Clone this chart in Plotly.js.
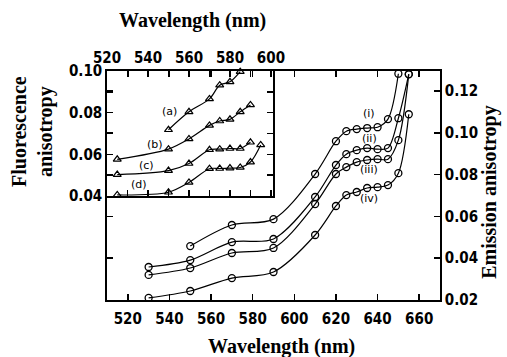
<!DOCTYPE html>
<html><head><meta charset="utf-8">
<script src="https://cdn.plot.ly/plotly-3.0.1.min.js"></script>
<style>html,body{margin:0;padding:0;background:#fff}#chart{width:507px;height:357px}</style>
</head><body><div id="chart"></div>
<script>
// Main plot (emission anisotropy vs wavelength)
const wavelengthI = [550, 570, 590, 610, 620, 625, 630, 635, 640, 645, 650];
const seriesI = [0.0458, 0.0559, 0.0587, 0.0803, 0.0960, 0.1008, 0.1018, 0.1023, 0.1027, 0.1066, 0.1283];
const wavelengthMain = [530, 550, 570, 590, 610, 620, 625, 630, 635, 640, 645, 650, 655];
const seriesII = [0.0358, 0.0391, 0.0477, 0.0492, 0.0693, 0.0846, 0.0898, 0.0917, 0.0927, 0.0922, 0.0927, 0.1070, 0.1281];
const seriesIII = [0.0320, 0.0353, 0.0425, 0.0449, 0.0659, 0.0803, 0.0836, 0.0860, 0.0870, 0.0874, 0.0874, 0.0965, 0.1280];
const seriesIV = [0.0210, 0.0243, 0.0305, 0.0334, 0.0511, 0.0650, 0.0702, 0.0717, 0.0736, 0.0740, 0.0750, 0.0807, 0.1089];
const mainLabels = ['(i)', '(ii)', '(iii)', '(iv)'];
const mainLabelX = [636, 636, 636, 636];
const mainLabelY = [0.1094, 0.0975, 0.0826, 0.0688];

// Inset (fluorescence anisotropy)
const insetAX = [550, 560, 570, 575, 580, 585];
const insetA = [0.0718, 0.0804, 0.0866, 0.0932, 0.0948, 0.0997];
const insetBX = [525, 550, 560, 570, 575, 580, 585, 590];
const insetB = [0.0576, 0.0625, 0.0674, 0.0739, 0.0760, 0.0768, 0.0804, 0.0837];
const insetCX = [525, 550, 560, 570, 575, 580, 585, 590];
const insetC = [0.0503, 0.0522, 0.0556, 0.0622, 0.0625, 0.0628, 0.0628, 0.0658];
const insetDX = [525, 550, 560, 570, 575, 580, 585, 590, 595];
const insetD = [0.0405, 0.0418, 0.0465, 0.0531, 0.0532, 0.0534, 0.0537, 0.0563, 0.0645];
const insetLabels = ['(a)', '(b)', '(c)', '(d)'];
const insetLabelX = [550.7, 543.4, 539.5, 535.6];
const insetLabelY = [0.0806, 0.0645, 0.0547, 0.0454];

const mainXTicks = [520, 540, 560, 580, 600, 620, 640, 660];
const mainYTicks = [0.02, 0.04, 0.06, 0.08, 0.10, 0.12];
const insetXTicks = [520, 530, 540, 550, 560, 570, 580, 590, 600];
const insetXTickText = ['520', '', '540', '', '560', '', '580', '', '600'];
const insetYTicks = [0.04, 0.05, 0.06, 0.07, 0.08, 0.09, 0.10];
const insetYTickText = ['0.04', '', '0.06', '', '0.08', '', '0.10'];

const tickFont = {family: 'DejaVu Sans Condensed, DejaVu Sans, sans-serif', size: 15, color: '#000', weight: 'bold'};
const titleFont = {family: 'Liberation Serif, Times New Roman, serif', size: 20, color: '#000', weight: 'bold'};
const smallFont = {family: 'DejaVu Sans, sans-serif', size: 11, color: '#000'};

function mainTrace(x, y) {
  return {x: x, y: y, xaxis: 'x', yaxis: 'y', type: 'scatter', mode: 'lines+markers',
    line: {color: '#000', width: 1.2, shape: 'spline', smoothing: 0.9},
    marker: {symbol: 'circle-open', size: 7, color: '#000', line: {width: 1.3, color: '#000'}},
    cliponaxis: false, showlegend: false, hoverinfo: 'skip'};
}
function insetTrace(x, y) {
  return {x: x, y: y, xaxis: 'x2', yaxis: 'y2', type: 'scatter', mode: 'lines+markers',
    line: {color: '#000', width: 1.2, shape: 'spline', smoothing: 0.9},
    marker: {symbol: 'triangle-up-open', size: 7, color: '#000', line: {width: 1.2, color: '#000'}},
    cliponaxis: false, showlegend: false, hoverinfo: 'skip'};
}

const data = [
  mainTrace(wavelengthI, seriesI), mainTrace(wavelengthMain, seriesII),
  mainTrace(wavelengthMain, seriesIII), mainTrace(wavelengthMain, seriesIV),
  insetTrace(insetAX, insetA), insetTrace(insetBX, insetB),
  insetTrace(insetCX, insetC), insetTrace(insetDX, insetD)
];

const annotations = [];
mainLabels.forEach((t, i) => annotations.push({text: t, x: mainLabelX[i], y: mainLabelY[i], xref: 'x', yref: 'y', showarrow: false, font: smallFont}));
insetLabels.forEach((t, i) => annotations.push({text: t, x: insetLabelX[i], y: insetLabelY[i], xref: 'x2', yref: 'y2', showarrow: false, font: smallFont}));
annotations.push({text: 'Wavelength (nm)', xref: 'paper', yref: 'paper', x: 0.525, y: -0.205, showarrow: false, font: titleFont, xanchor: 'center', yanchor: 'middle'});
annotations.push({text: 'Wavelength (nm)', xref: 'paper', yref: 'paper', x: 0.258, y: 1.2227, showarrow: false, font: titleFont, xanchor: 'center', yanchor: 'middle'});
annotations.push({text: 'Fluorescence<br>anisotropy', xref: 'paper', yref: 'paper', x: -0.222, y: 0.734, textangle: -90, showarrow: false, font: titleFont, xanchor: 'center', yanchor: 'middle'});
annotations.push({text: 'Emission anisotropy', xref: 'paper', yref: 'paper', x: 1.15, y: 0.472, textangle: -90, showarrow: false, font: titleFont, xanchor: 'center', yanchor: 'middle'});

const axCommon = {showline: true, linecolor: '#000', linewidth: 1.8, ticks: 'inside', tickcolor: '#000', tickwidth: 1.5, ticklen: 6, showgrid: false, zeroline: false, tickfont: tickFont, fixedrange: true};

const layout = {
  width: 507, height: 357,
  margin: {l: 107, r: 67, t: 71, b: 57, pad: 0},
  paper_bgcolor: '#fff', plot_bgcolor: 'rgba(0,0,0,0)',
  xaxis: Object.assign({}, axCommon, {domain: [0, 1], range: [510, 670], tickvals: mainXTicks, mirror: 'ticks', anchor: 'y', ticklabelstandoff: 4}),
  yaxis: Object.assign({}, axCommon, {domain: [0, 1], range: [0.02, 0.1296], tickvals: mainYTicks, tickformat: '.2f', side: 'right', mirror: 'ticks', anchor: 'x'}),
  xaxis2: Object.assign({}, axCommon, {domain: [0, 0.4985], range: [520, 601], tickvals: insetXTicks, ticktext: insetXTickText, side: 'top', mirror: 'ticks', anchor: 'y2'}),
  yaxis2: Object.assign({}, axCommon, {domain: [0.4541, 1], range: [0.04, 0.10], tickvals: insetYTicks, ticktext: insetYTickText, side: 'left', mirror: 'ticks', anchor: 'x2'}),
  annotations: annotations
};

Plotly.newPlot('chart', data, layout, {staticPlot: true, displayModeBar: false});
</script></body></html>
